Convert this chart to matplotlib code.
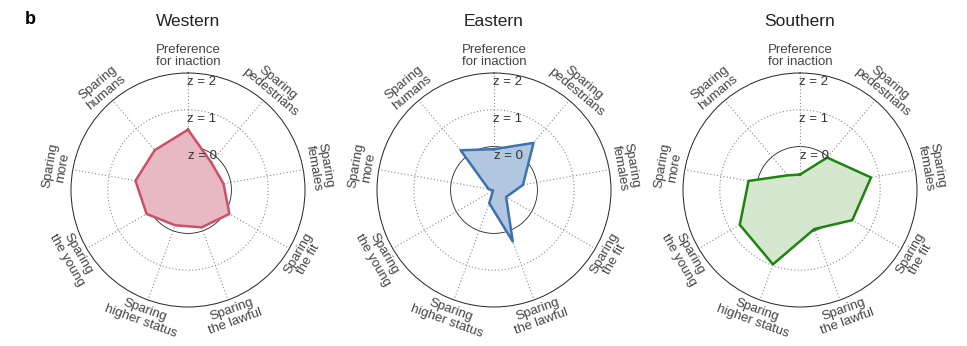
import numpy as np
import matplotlib
matplotlib.use("Agg")
import matplotlib.pyplot as plt

plt.rcParams['font.family'] = ['Liberation Sans', 'DejaVu Sans']

# axes, clockwise from the top
labels = ["Preference\nfor inaction", "Sparing\npedestrians", "Sparing\nfemales",
          "Sparing\nthe fit", "Sparing\nthe lawful", "Sparing\nhigher status",
          "Sparing\nthe young", "Sparing\nmore", "Sparing\nhumans"]

clusters = ["Western", "Eastern", "Southern"]
western = [0.46, -0.20, -0.20, 0.12, -0.10, -0.16, 0.12, 0.27, 0.23]
eastern = [-0.07, 0.49, -0.38, -0.80, 0.31, -0.80, -1.15, -1.03, 0.23]
southern = [-0.76, -0.03, 0.78, 0.46, -0.05, 0.97, 0.71, 0.24, -0.66]
edge_colors = ["#cc5068", "#3d72b0", "#1e8410"]
fill_colors = ["#e9b9c3", "#b0c7df", "#d5e7cf"]

z_rings = [0, 1, 2]
rmin, rmax = -1.18, 2

fig = plt.figure(figsize=(9.67, 3.46), dpi=100)
centers_px = [188, 494, 800]
rad_px = 117

n = len(labels)
angles = np.arange(n) * 2 * np.pi / n

for k, (name, vals) in enumerate(zip(clusters, [western, eastern, southern])):
    cx = centers_px[k]
    ax = fig.add_axes([(cx - rad_px) / 967, (346 - 190 - rad_px) / 346,
                       2 * rad_px / 967, 2 * rad_px / 346], projection='polar')
    ax.set_theta_offset(np.pi / 2)
    ax.set_theta_direction(-1)
    ax.set_ylim(rmin, rmax)
    ax.grid(False)
    ax.set_xticks([])
    ax.set_yticks([])
    ax.spines['polar'].set_linewidth(0.7)
    ax.spines['polar'].set_color('#222222')

    circ = np.linspace(0, 2 * np.pi, 300)
    ax.plot(circ, np.zeros_like(circ), color='#222222', lw=0.6)
    ax.plot(circ, np.ones_like(circ), color='#888888', lw=0.8, ls=(0, (1, 2)))
    for a in angles:
        ax.plot([a, a], [rmin, rmax], color='#888888', lw=0.8, ls=(0, (1, 2)))

    th = np.append(angles, angles[0])
    v = np.append(vals, vals[0])
    ax.fill(th, v, color=fill_colors[k], zorder=3)
    ax.plot(th, v, color=edge_colors[k], lw=1.8, zorder=4)

    for z in z_rings:
        ax.text(-0.01, z - 0.25, f"z = {z}", ha='left', va='center',
                fontsize=9.5, color='#333333', zorder=5)

    for a, lab in zip(angles, labels):
        deg = (90 - np.degrees(a) + 180) % 360 - 180
        rot = deg - 90
        if rot < -90:
            rot += 180
        elif rot > 90:
            rot -= 180
        ax.text(a, 2.45, lab, ha='center', va='center', rotation=rot,
                rotation_mode='anchor', fontsize=9.5, color='#444444',
                linespacing=1.0, clip_on=False)

    fig.text(cx / 967, 1 - 22 / 346, name, ha='center', va='center',
             fontsize=12.5, color='#222222')

fig.text(30 / 967, 1 - 20 / 346, "b", ha='center', va='center',
         fontsize=13, fontweight='bold')

fig.savefig("out.png", dpi=100)
